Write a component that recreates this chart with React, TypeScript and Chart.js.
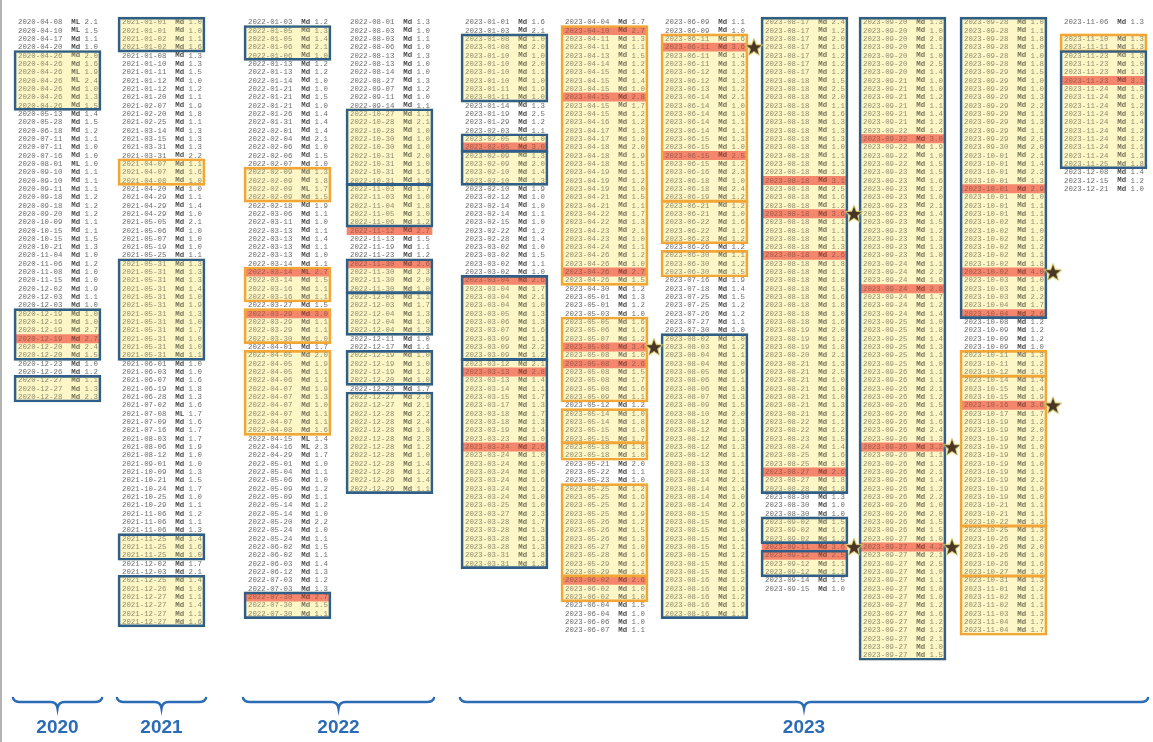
import React, { useEffect, useRef } from 'react';
import { Chart, registerables } from 'chart.js';

Chart.register(...registerables);

// ---------------- data: one list per printed column ----------------
const col2020 = [
  "2020-04-08 ML 2.1","2020-04-10 ML 1.5","2020-04-17 Md 1.1","2020-04-20 Md 1.0",
  "2020-04-26 Md 2.0","2020-04-26 Md 1.6","2020-04-26 ML 1.9","2020-04-26 ML 2.4","2020-04-26 Md 1.0","2020-04-26 Md 1.3","2020-04-26 Md 1.5",
  "2020-05-13 Md 1.4","2020-05-28 Md 1.5","2020-06-18 Md 1.2","2020-07-11 Md 1.1","2020-07-11 Md 1.0","2020-07-16 Md 1.0","2020-08-01 ML 1.0","2020-09-10 Md 1.1","2020-09-10 Md 1.1","2020-09-11 Md 1.1","2020-09-18 Md 1.2","2020-09-18 Md 1.2","2020-09-20 Md 1.2","2020-10-09 Md 1.1","2020-10-15 Md 1.1","2020-10-15 Md 1.5","2020-10-21 Md 1.3","2020-11-04 Md 1.0","2020-11-06 Md 1.2","2020-11-08 Md 1.0","2020-11-15 Md 1.0","2020-12-02 Md 1.9","2020-12-03 Md 1.1","2020-12-03 Md 1.0",
  "2020-12-19 Md 1.0","2020-12-19 Md 1.0","2020-12-19 Md 2.7","2020-12-19 Md 2.7","2020-12-20 Md 2.4","2020-12-20 Md 1.5",
  "2020-12-23 Md 1.0","2020-12-26 Md 1.2",
  "2020-12-27 Md 1.1","2020-12-27 Md 1.3","2020-12-28 Md 2.3",
];
const col2021 = [
  "2021-01-01 Md 1.0","2021-01-01 Md 1.0","2021-01-02 Md 1.1","2021-01-02 Md 1.6",
  "2021-01-08 Md 1.3","2021-01-10 Md 1.3","2021-01-11 Md 1.5","2021-01-12 Md 1.0","2021-01-12 Md 1.2","2021-01-20 Md 1.1","2021-02-07 Md 1.9","2021-02-20 Md 1.8","2021-02-25 Md 1.1","2021-03-14 Md 1.3","2021-03-15 Md 1.3","2021-03-31 Md 1.3","2021-03-31 Md 2.2",
  "2021-04-07 Md 1.1","2021-04-07 Md 1.6","2021-04-08 Md 1.0",
  "2021-04-20 Md 1.0","2021-04-29 Md 1.1","2021-04-29 Md 1.4","2021-04-29 Md 1.0","2021-05-05 Md 2.1","2021-05-06 Md 1.0","2021-05-07 Md 1.0","2021-05-19 Md 1.0","2021-05-25 Md 1.1",
  "2021-05-31 Md 1.3","2021-05-31 Md 1.3","2021-05-31 Md 1.3","2021-05-31 Md 1.4","2021-05-31 Md 1.0","2021-05-31 Md 1.9","2021-05-31 Md 1.3","2021-05-31 Md 1.0","2021-05-31 Md 1.7","2021-05-31 Md 1.0","2021-05-31 Md 1.0","2021-05-31 Md 1.1",
  "2021-06-01 Md 1.0","2021-06-03 Md 1.0","2021-06-07 Md 1.6","2021-06-19 Md 1.8","2021-06-28 Md 1.3","2021-07-02 Md 1.6","2021-07-08 ML 1.7","2021-07-09 Md 1.6","2021-07-16 Md 1.7","2021-08-03 Md 1.7","2021-08-06 Md 1.9","2021-08-12 Md 1.0","2021-09-01 Md 1.0","2021-10-09 Md 1.3","2021-10-21 Md 1.5","2021-10-24 Md 1.7","2021-10-25 Md 1.0","2021-10-29 Md 1.1","2021-11-06 Md 1.2","2021-11-06 Md 1.1","2021-11-06 Md 1.3",
  "2021-11-25 Md 1.4","2021-11-25 Md 1.6","2021-11-25 Md 1.0",
  "2021-12-02 Md 1.7","2021-12-03 Md 2.1",
  "2021-12-25 Md 1.4","2021-12-26 Md 1.0","2021-12-27 Md 1.1","2021-12-27 Md 1.4","2021-12-27 Md 1.1","2021-12-27 Md 1.6",
];
const col2022a = [
  "2022-01-03 Md 1.2",
  "2022-01-05 Md 1.3","2022-01-05 Md 1.4","2022-01-06 Md 2.1","2022-01-06 Md 1.0",
  "2022-01-13 Md 1.2","2022-01-13 Md 1.2","2022-01-14 Md 1.0","2022-01-21 Md 1.0","2022-01-21 Md 1.5","2022-01-21 Md 1.0","2022-01-26 Md 1.4","2022-01-31 Md 1.4","2022-02-01 Md 1.4","2022-02-04 Md 2.1","2022-02-06 Md 1.0","2022-02-06 Md 1.5","2022-02-07 Md 1.0",
  "2022-02-09 Md 1.3","2022-02-09 Md 1.8","2022-02-09 ML 1.7","2022-02-09 Md 1.5",
  "2022-02-18 Md 1.9","2022-03-06 Md 1.1","2022-03-11 Md 1.0","2022-03-13 Md 1.1","2022-03-13 Md 1.4","2022-03-13 Md 1.1","2022-03-13 Md 1.0","2022-03-14 Md 1.1",
  "2022-03-14 ML 2.7","2022-03-14 Md 1.5","2022-03-16 Md 1.1","2022-03-16 Md 1.1",
  "2022-03-27 Md 1.5",
  "2022-03-29 Md 3.0","2022-03-29 Md 1.1","2022-03-29 Md 1.1","2022-03-30 Md 1.0",
  "2022-04-01 Md 1.7",
  "2022-04-05 Md 2.0","2022-04-05 Md 1.9","2022-04-05 Md 1.1","2022-04-06 Md 1.1","2022-04-07 Md 1.9","2022-04-07 Md 1.3","2022-04-07 Md 1.0","2022-04-07 Md 1.1","2022-04-07 Md 1.1","2022-04-08 Md 1.6",
  "2022-04-15 ML 1.4","2022-04-16 ML 2.3","2022-04-29 Md 1.7","2022-05-01 Md 1.0","2022-05-04 Md 1.1","2022-05-06 Md 1.0","2022-05-09 Md 1.2","2022-05-09 Md 1.1","2022-05-14 Md 1.2","2022-05-14 Md 1.0","2022-05-20 Md 2.2","2022-05-24 Md 1.0","2022-05-24 Md 1.1","2022-06-02 Md 1.5","2022-06-02 Md 1.1","2022-06-03 Md 1.4","2022-06-12 Md 1.3","2022-07-03 Md 1.2","2022-07-03 Md 1.3",
  "2022-07-30 Md 2.7","2022-07-30 Md 1.5","2022-07-30 Md 1.1",
];
const col2022b = [
  "2022-08-01 Md 1.3","2022-08-03 Md 1.0","2022-08-03 Md 1.1","2022-08-06 Md 1.0","2022-08-13 Md 1.3","2022-08-13 Md 1.0","2022-08-14 Md 1.0","2022-08-27 Md 1.3","2022-09-07 Md 1.2","2022-09-11 Md 1.0","2022-09-14 Md 1.1",
  "2022-10-27 Md 1.1","2022-10-28 Md 2.1","2022-10-28 Md 1.0","2022-10-30 Md 1.0","2022-10-30 Md 1.0","2022-10-31 Md 2.0","2022-10-31 Md 1.0","2022-10-31 Md 1.6","2022-10-31 Md 1.3",
  "2022-11-03 Md 1.7","2022-11-03 Md 1.0","2022-11-04 Md 1.8","2022-11-05 Md 1.0","2022-11-06 Md 1.2",
  "2022-11-12 Md 2.7","2022-11-13 Md 1.5","2022-11-19 Md 1.1","2022-11-23 Md 1.2",
  "2022-11-30 Md 2.6","2022-11-30 Md 2.3","2022-11-30 Md 2.0","2022-11-30 Md 1.0",
  "2022-12-03 Md 1.1","2022-12-03 Md 1.7","2022-12-04 Md 1.3","2022-12-04 Md 1.0","2022-12-04 Md 1.3",
  "2022-12-11 Md 1.0","2022-12-17 Md 1.1",
  "2022-12-19 Md 1.0","2022-12-19 Md 1.0","2022-12-19 Md 1.2","2022-12-20 Md 1.0",
  "2022-12-23 Md 1.7",
  "2022-12-27 Md 2.0","2022-12-27 Md 2.1","2022-12-28 Md 2.2","2022-12-28 Md 2.4","2022-12-28 Md 1.0","2022-12-28 Md 2.3","2022-12-28 Md 1.2","2022-12-28 Md 1.0","2022-12-28 Md 1.4","2022-12-28 Md 1.2","2022-12-29 Md 1.4","2022-12-29 Md 1.1",
];
const col2023a = [
  "2023-01-01 Md 1.6","2023-01-03 Md 2.1",
  "2023-01-08 Md 1.0","2023-01-08 Md 2.0","2023-01-10 Md 1.0","2023-01-10 Md 2.0","2023-01-10 Md 1.1","2023-01-10 Md 1.0","2023-01-11 Md 1.9","2023-01-11 Md 1.0",
  "2023-01-14 Md 1.3","2023-01-19 Md 2.5","2023-01-29 Md 1.2","2023-02-03 Md 1.1",
  "2023-02-05 Md 1.0","2023-02-05 Md 3.0","2023-02-09 Md 1.3","2023-02-09 Md 2.0","2023-02-10 Md 1.4","2023-02-10 Md 1.3",
  "2023-02-10 Md 1.9","2023-02-12 Md 1.0","2023-02-14 Md 1.0","2023-02-14 Md 1.1","2023-02-15 Md 1.0","2023-02-22 Md 1.2","2023-02-28 Md 1.4","2023-03-02 Md 1.0","2023-03-02 Md 1.5","2023-03-02 Md 1.1","2023-03-02 Md 1.0",
  "2023-03-04 Md 2.6","2023-03-04 Md 1.7","2023-03-04 Md 2.1","2023-03-04 Md 1.0","2023-03-05 Md 1.3","2023-03-06 Md 1.3","2023-03-07 Md 1.6","2023-03-09 Md 1.1","2023-03-09 Md 2.2","2023-03-09 Md 1.2",
  "2023-03-12 Md 2.1","2023-03-13 Md 2.8","2023-03-13 Md 1.4","2023-03-14 Md 1.1","2023-03-15 Md 1.7","2023-03-17 Md 1.3","2023-03-18 Md 1.7","2023-03-18 Md 1.3","2023-03-19 Md 1.4","2023-03-23 Md 1.0","2023-03-24 Md 2.6","2023-03-24 Md 1.0","2023-03-24 Md 1.0","2023-03-24 Md 1.0","2023-03-24 Md 1.6","2023-03-24 Md 1.2","2023-03-24 Md 1.0","2023-03-25 Md 1.0","2023-03-27 Md 2.3","2023-03-28 Md 1.7","2023-03-28 Md 1.3","2023-03-28 Md 1.3","2023-03-28 Md 1.3","2023-03-31 Md 1.8","2023-03-31 Md 1.3",
];
const col2023b = [
  "2023-04-04 Md 1.7",
  "2023-04-10 Md 2.7","2023-04-11 Md 1.3","2023-04-11 Md 1.1","2023-04-13 Md 1.5","2023-04-14 Md 1.2","2023-04-15 Md 1.4","2023-04-15 Md 1.4","2023-04-15 Md 1.0","2023-04-15 Md 2.8","2023-04-15 Md 1.7","2023-04-15 Md 1.2","2023-04-16 Md 1.2","2023-04-17 Md 1.3","2023-04-17 Md 1.0","2023-04-18 Md 2.0","2023-04-18 Md 1.9","2023-04-18 Md 1.5","2023-04-19 Md 1.1","2023-04-19 Md 1.2","2023-04-19 Md 1.0","2023-04-21 Md 1.5","2023-04-21 Md 1.1","2023-04-22 Md 1.7","2023-04-22 Md 1.3","2023-04-23 Md 2.1","2023-04-23 Md 1.0","2023-04-24 Md 1.1","2023-04-26 Md 1.2","2023-04-26 Md 1.0","2023-04-26 Md 2.7","2023-04-26 Md 1.5",
  "2023-04-30 Md 1.2","2023-05-01 Md 1.3","2023-05-01 Md 1.2","2023-05-03 Md 1.0",
  "2023-05-05 Md 1.6","2023-05-06 Md 1.6","2023-05-07 Md 1.2","2023-05-08 Md 3.4","2023-05-08 Md 1.0","2023-05-08 Md 2.6","2023-05-08 Md 1.5","2023-05-08 Md 1.7","2023-05-08 Md 1.6","2023-05-09 Md 1.1",
  "2023-05-12 Md 1.2",
  "2023-05-14 Md 1.0","2023-05-14 Md 1.8","2023-05-15 Md 1.0","2023-05-15 Md 1.7",
  "2023-05-18 Md 1.8","2023-05-18 Md 1.0",
  "2023-05-21 Md 2.0","2023-05-22 Md 1.1","2023-05-23 Md 1.0",
  "2023-05-25 Md 1.2","2023-05-25 Md 1.6","2023-05-25 Md 1.2","2023-05-25 Md 1.9","2023-05-26 Md 1.2","2023-05-26 Md 1.5","2023-05-26 Md 1.3","2023-05-27 Md 1.0","2023-05-28 Md 1.6","2023-05-29 Md 1.2","2023-05-29 Md 1.1",
  "2023-06-02 Md 2.6","2023-06-02 Md 1.0","2023-06-02 Md 1.0",
  "2023-06-04 Md 1.5","2023-06-04 Md 1.0","2023-06-06 Md 1.0","2023-06-07 Md 1.1",
];
const col2023c = [
  "2023-06-09 Md 1.1","2023-06-09 Md 1.0",
  "2023-06-11 Md 1.6","2023-06-11 Md 3.6","2023-06-11 Md 1.4","2023-06-11 Md 1.3","2023-06-12 Md 1.2","2023-06-12 Md 1.3","2023-06-13 Md 1.2","2023-06-14 Md 2.1","2023-06-14 Md 1.0","2023-06-14 Md 1.0","2023-06-14 Md 1.1","2023-06-14 Md 1.1","2023-06-15 Md 1.3","2023-06-15 Md 1.0","2023-06-15 Md 2.5","2023-06-15 Md 1.2","2023-06-16 Md 2.3","2023-06-18 Md 1.0","2023-06-18 Md 2.4","2023-06-19 Md 1.2",
  "2023-06-21 Md 1.2","2023-06-21 Md 1.0","2023-06-22 Md 1.6","2023-06-22 Md 1.2","2023-06-23 Md 1.2",
  "2023-06-26 Md 1.2",
  "2023-06-30 Md 1.1","2023-06-30 Md 1.2","2023-06-30 Md 1.5",
  "2023-07-16 Md 1.9","2023-07-18 Md 1.4","2023-07-25 Md 1.5","2023-07-25 Md 1.2","2023-07-26 Md 1.2","2023-07-27 Md 1.1","2023-07-30 Md 1.0",
  "2023-08-02 Md 1.0","2023-08-03 Md 1.2","2023-08-04 Md 1.1","2023-08-04 Md 1.0","2023-08-05 Md 1.9","2023-08-06 Md 1.1","2023-08-06 Md 1.8","2023-08-07 Md 1.3","2023-08-09 Md 1.5","2023-08-10 Md 2.0","2023-08-12 Md 1.3","2023-08-12 Md 1.9","2023-08-12 Md 1.3","2023-08-12 Md 1.3","2023-08-12 Md 1.1","2023-08-13 Md 1.1","2023-08-13 Md 1.1","2023-08-14 Md 2.1","2023-08-14 Md 1.4","2023-08-14 Md 1.0","2023-08-14 Md 2.6","2023-08-15 Md 1.9","2023-08-15 Md 1.0","2023-08-15 Md 1.0","2023-08-15 Md 1.1","2023-08-15 Md 1.1","2023-08-15 Md 1.2","2023-08-15 Md 1.1","2023-08-15 Md 1.5","2023-08-16 Md 1.2","2023-08-16 Md 1.9","2023-08-16 Md 1.2","2023-08-16 Md 1.9","2023-08-16 Md 1.1",
];
const col2023d = [
  "2023-08-17 Md 2.4","2023-08-17 Md 1.2","2023-08-17 Md 2.0","2023-08-17 Md 1.6","2023-08-17 Md 1.2","2023-08-17 Md 1.2","2023-08-17 Md 1.2",
  "2023-08-18 Md 1.5","2023-08-18 Md 2.5","2023-08-18 Md 2.0","2023-08-18 Md 1.1","2023-08-18 Md 1.6","2023-08-18 Md 1.3","2023-08-18 Md 1.3","2023-08-18 Md 1.3","2023-08-18 Md 1.0","2023-08-18 Md 1.1","2023-08-18 Md 1.1","2023-08-18 Md 1.3","2023-08-18 Md 3.1","2023-08-18 Md 2.5","2023-08-18 Md 1.6","2023-08-18 Md 1.2","2023-08-18 Md 3.6","2023-08-18 Md 1.1","2023-08-18 Md 1.1","2023-08-18 Md 1.1","2023-08-18 Md 1.3","2023-08-18 Md 2.6","2023-08-18 Md 1.8","2023-08-18 Md 1.1","2023-08-18 Md 1.8","2023-08-18 Md 1.5","2023-08-18 Md 1.6","2023-08-18 Md 1.8","2023-08-18 Md 1.0","2023-08-18 Md 1.6",
  "2023-08-19 Md 2.0","2023-08-19 Md 1.2","2023-08-19 Md 1.8","2023-08-20 Md 2.1","2023-08-21 Md 1.3","2023-08-21 Md 2.5","2023-08-21 Md 1.0","2023-08-21 Md 1.0","2023-08-21 Md 1.0","2023-08-21 Md 1.3","2023-08-21 Md 1.2","2023-08-22 Md 1.1","2023-08-22 Md 1.2","2023-08-23 Md 1.5","2023-08-24 Md 1.4","2023-08-25 Md 1.6","2023-08-25 Md 1.0","2023-08-27 Md 2.6","2023-08-27 Md 1.8","2023-08-28 Md 1.8",
  "2023-08-30 Md 1.3","2023-08-30 Md 1.0","2023-08-30 Md 1.0",
  "2023-09-02 Md 1.5","2023-09-02 Md 1.6","2023-09-02 Md 1.2",
  "2023-09-11 Md 3.6",
  "2023-09-12 Md 2.5","2023-09-12 Md 1.1","2023-09-12 Md 1.1",
  "2023-09-14 Md 1.5","2023-09-15 Md 1.0",
];
const col2023e = [
  "2023-09-20 Md 1.3","2023-09-20 Md 1.0","2023-09-20 Md 2.0","2023-09-20 Md 1.1","2023-09-20 Md 1.0","2023-09-20 Md 2.5","2023-09-20 Md 1.4",
  "2023-09-21 Md 1.0","2023-09-21 Md 1.0","2023-09-21 Md 1.2","2023-09-21 Md 1.1","2023-09-21 Md 1.4","2023-09-21 Md 1.2",
  "2023-09-22 Md 1.4","2023-09-22 Md 3.0","2023-09-22 Md 1.9","2023-09-22 Md 1.0","2023-09-22 Md 1.5",
  "2023-09-23 Md 1.5","2023-09-23 Md 1.6","2023-09-23 Md 1.2","2023-09-23 Md 1.0","2023-09-23 Md 2.1","2023-09-23 Md 1.4","2023-09-23 Md 1.5","2023-09-23 Md 1.2","2023-09-23 Md 1.3","2023-09-23 Md 1.3","2023-09-23 Md 1.0",
  "2023-09-24 Md 1.1","2023-09-24 Md 2.2","2023-09-24 Md 1.0","2023-09-24 Md 2.8","2023-09-24 Md 1.7","2023-09-24 Md 1.2","2023-09-24 Md 1.4",
  "2023-09-25 Md 1.0","2023-09-25 Md 1.8","2023-09-25 Md 1.4","2023-09-25 Md 1.3","2023-09-25 Md 1.1","2023-09-25 Md 1.0",
  "2023-09-26 Md 1.1","2023-09-26 Md 1.1","2023-09-26 Md 2.1","2023-09-26 Md 1.2","2023-09-26 Md 1.5","2023-09-26 Md 1.4","2023-09-26 Md 1.6","2023-09-26 Md 2.4","2023-09-26 Md 1.3","2023-09-26 Md 3.2","2023-09-26 Md 1.1","2023-09-26 Md 1.3","2023-09-26 Md 2.1","2023-09-26 Md 1.4","2023-09-26 Md 1.2","2023-09-26 Md 2.2","2023-09-26 Md 1.0","2023-09-26 Md 2.0","2023-09-26 Md 1.5","2023-09-26 Md 1.5",
  "2023-09-27 Md 1.0","2023-09-27 Md 4.2","2023-09-27 Md 2.1","2023-09-27 Md 2.5","2023-09-27 Md 1.0","2023-09-27 Md 1.1","2023-09-27 Md 1.0","2023-09-27 Md 1.0","2023-09-27 Md 1.2","2023-09-27 Md 1.6","2023-09-27 Md 1.2","2023-09-27 Md 1.2","2023-09-27 Md 2.1","2023-09-27 Md 1.0","2023-09-27 Md 1.5",
];
const col2023f = [
  "2023-09-28 Md 1.0","2023-09-28 Md 1.1","2023-09-28 Md 1.8","2023-09-28 Md 1.0","2023-09-28 Md 1.0","2023-09-28 Md 1.8",
  "2023-09-29 Md 1.5","2023-09-29 Md 1.0","2023-09-29 Md 1.0","2023-09-29 Md 1.3","2023-09-29 Md 2.2","2023-09-29 Md 1.1","2023-09-29 Md 1.3","2023-09-29 Md 1.1","2023-09-29 Md 2.5",
  "2023-09-30 Md 2.0",
  "2023-10-01 Md 2.1","2023-10-01 Md 1.4","2023-10-01 Md 2.2","2023-10-01 Md 1.3","2023-10-01 Md 2.9","2023-10-01 Md 1.0","2023-10-01 Md 1.1","2023-10-01 Md 1.1",
  "2023-10-02 Md 1.1","2023-10-02 Md 1.0","2023-10-02 Md 1.2","2023-10-02 Md 1.2","2023-10-02 Md 1.1","2023-10-02 Md 1.8","2023-10-02 Md 4.0",
  "2023-10-03 Md 1.0","2023-10-03 Md 1.0","2023-10-03 Md 2.2","2023-10-04 Md 1.7","2023-10-04 Md 2.6",
  "2023-10-08 Md 1.2","2023-10-09 Md 1.2","2023-10-09 Md 1.2","2023-10-09 Md 1.0",
  "2023-10-11 Md 1.3","2023-10-11 Md 1.2","2023-10-12 Md 1.5",
  "2023-10-14 Md 1.4","2023-10-15 Md 1.4","2023-10-15 Md 1.9","2023-10-16 Md 3.6","2023-10-17 Md 1.7","2023-10-19 Md 1.2","2023-10-19 Md 2.0","2023-10-19 Md 2.2","2023-10-19 Md 1.0","2023-10-19 Md 1.0","2023-10-19 Md 1.0","2023-10-19 Md 1.1","2023-10-19 Md 2.2","2023-10-19 Md 1.0","2023-10-19 Md 1.0","2023-10-21 Md 1.1","2023-10-21 Md 1.1","2023-10-22 Md 1.3",
  "2023-10-25 Md 1.3","2023-10-26 Md 1.2","2023-10-26 Md 2.0","2023-10-26 Md 1.0","2023-10-26 Md 1.6","2023-10-27 Md 1.2",
  "2023-10-31 Md 1.3","2023-11-01 Md 1.2","2023-11-02 Md 1.1","2023-11-02 Md 1.1","2023-11-03 Md 1.3","2023-11-04 Md 1.7","2023-11-04 Md 1.7",
];
const col2023g = [
  "2023-11-06 Md 1.3","",
  "2023-11-10 Md 1.3","2023-11-11 Md 1.3",
  "2023-11-23 Md 1.3","2023-11-23 Md 1.0","2023-11-23 Md 1.3","2023-11-23 Md 3.1","2023-11-24 Md 1.3","2023-11-24 Md 1.0","2023-11-24 Md 1.2","2023-11-24 Md 1.0","2023-11-24 Md 1.4","2023-11-24 Md 1.2","2023-11-24 Md 1.2","2023-11-24 Md 1.1","2023-11-24 Md 1.3","2023-11-25 Md 1.8",
  "2023-12-08 Md 1.4","2023-12-15 Md 1.2","2023-12-21 Md 1.0",
];

const columns: string[][] = [col2020, col2021, col2022a, col2022b, col2023a, col2023b, col2023c, col2023d, col2023e, col2023f, col2023g];

// highlighted groups: [column, first row, last row, frame colour]
type Kind = 'blue' | 'orange';
const boxes: [number, number, number, Kind][] = [
  [0, 4, 10, 'blue'], [0, 35, 40, 'blue'], [0, 43, 45, 'blue'],
  [1, 0, 3, 'blue'], [1, 17, 19, 'orange'], [1, 29, 40, 'blue'], [1, 62, 64, 'blue'], [1, 67, 72, 'blue'],
  [2, 1, 4, 'blue'], [2, 18, 21, 'orange'], [2, 30, 33, 'orange'], [2, 35, 38, 'orange'], [2, 40, 49, 'orange'], [2, 69, 71, 'blue'],
  [3, 11, 19, 'blue'], [3, 20, 24, 'blue'], [3, 29, 32, 'blue'], [3, 33, 37, 'blue'], [3, 40, 43, 'blue'], [3, 45, 56, 'blue'],
  [4, 2, 9, 'blue'], [4, 14, 15, 'blue'], [4, 16, 19, 'blue'], [4, 31, 40, 'blue'], [4, 41, 65, 'blue'],
  [5, 1, 31, 'orange'], [5, 36, 45, 'orange'], [5, 47, 50, 'orange'], [5, 51, 52, 'orange'], [5, 56, 66, 'orange'], [5, 67, 69, 'orange'],
  [6, 2, 21, 'orange'], [6, 22, 26, 'orange'], [6, 28, 30, 'orange'], [6, 38, 71, 'blue'],
  [7, 0, 56, 'blue'], [7, 60, 62, 'blue'], [7, 64, 66, 'blue'],
  [8, 0, 76, 'blue'],
  [9, 0, 35, 'blue'], [9, 40, 42, 'orange'], [9, 43, 60, 'orange'], [9, 61, 66, 'orange'], [9, 67, 73, 'orange'],
  [10, 2, 3, 'orange'], [10, 4, 17, 'blue'],
];
// rows shaded red: [column, row]
const redRows: [number, number][] = [
  [0, 38], [2, 30], [2, 35], [2, 69], [3, 25], [3, 29],
  [4, 15], [4, 31], [4, 42], [4, 51],
  [5, 1], [5, 9], [5, 30], [5, 39], [5, 41], [5, 67],
  [6, 3], [6, 16],
  [7, 19], [7, 23], [7, 28], [7, 54], [7, 63], [7, 64],
  [8, 14], [8, 32], [8, 51], [8, 63],
  [9, 20], [9, 30], [9, 35], [9, 46],
  [10, 7],
];
// rows marked with a star: [column, row]
const starRows: [number, number][] = [[5, 39], [6, 3], [7, 23], [7, 63], [8, 51], [8, 63], [9, 30], [9, 46]];

const years = ['2020', '2021', '2022', '2023'];
const yearColumns: [number, number][] = [[0, 0], [1, 1], [2, 3], [4, 10]];

// ---------------- layout ----------------
const W = 1153;
const H = 742;
const COL_LEFT = [18, 122, 248, 350, 465, 565, 665, 765, 863, 964, 1064];
const ROW_PX = 8.33;
const FIRST_ROW_PX = 22.3;
const Y_MIN = -FIRST_ROW_PX / ROW_PX;
const Y_MAX = Y_MIN + H / ROW_PX;
const BOX_LEFT = -4;
const BOX_W = 87;
const BLUE = '#2f5e88';
const ORANGE = '#f2a638';
const FILL = '#fdf6c6';
const RED = '#f3866c';

function inBox(c: number, r: number) {
  return boxes.some(([bc, a, b]) => bc === c && r >= a && r <= b);
}
function isRed(c: number, r: number) {
  return redRows.some(([rc, rr]) => rc === c && rr === r);
}

function makeStar(): HTMLCanvasElement {
  const cv = document.createElement('canvas');
  cv.width = 22;
  cv.height = 22;
  const g = cv.getContext('2d')!;
  const cx = 11, cy = 11.5, R = 9.2, r = 3.8;
  g.beginPath();
  for (let i = 0; i < 10; i++) {
    const a = -Math.PI / 2 + (i * Math.PI) / 5;
    const rad = i % 2 === 0 ? R : r;
    g.lineTo(cx + rad * Math.cos(a), cy + rad * Math.sin(a));
  }
  g.closePath();
  g.shadowColor = 'rgba(235,225,100,0.95)';
  g.shadowBlur = 3;
  g.fillStyle = '#4b3626';
  g.fill();
  g.shadowBlur = 0;
  g.lineWidth = 0.8;
  g.strokeStyle = '#d9d27a';
  g.stroke();
  return cv;
}

const rowTextPlugin = {
  id: 'rowText',
  afterDatasetDraw(chart: any, args: any) {
    const ds = chart.data.datasets[args.index];
    if (ds.label !== 'rows') return;
    const ctx = chart.ctx as CanvasRenderingContext2D;
    ctx.save();
    ctx.textBaseline = 'middle';
    ctx.textAlign = 'left';
    ctx.font = '7.4px "Liberation Mono", monospace';
    const cw = ctx.measureText('0').width;
    args.meta.data.forEach((el: any, i: number) => {
      const p = ds.data[i];
      const [date, kind, mag] = p.text.split(' ');
      ctx.fillStyle = p.red ? '#a0584a' : p.boxed ? '#8f8c6c' : '#6c6c6c';
      ctx.font = '7.4px "Liberation Mono", monospace';
      ctx.fillText(date, el.x, el.y);
      ctx.fillText(mag, el.x + cw * 15, el.y);
      ctx.font = 'bold 7.4px "Liberation Mono", monospace';
      ctx.fillStyle = p.red ? '#8a4638' : p.boxed ? '#77755a' : '#4c4c4c';
      ctx.fillText(kind, el.x + cw * 12, el.y);
    });
    ctx.restore();
  },
};

const yearPlugin = {
  id: 'years',
  afterDraw(chart: any) {
    const ctx = chart.ctx as CanvasRenderingContext2D;
    const xs = chart.scales.x;
    ctx.save();
    ctx.strokeStyle = '#9a9a9a';
    ctx.lineWidth = 1.5;
    ctx.beginPath();
    ctx.moveTo(1, 0);
    ctx.lineTo(1, H);
    ctx.stroke();

    const yLine = H - 40;
    const blue = '#2c6cb6';
    years.forEach((yr, i) => {
      const [c0, c1] = yearColumns[i];
      const x0 = xs.getPixelForValue(COL_LEFT[c0] + BOX_LEFT - 1);
      const x1 = xs.getPixelForValue(COL_LEFT[c1] + BOX_LEFT + BOX_W + 1);
      const mid = (x0 + x1) / 2;
      const k = 7;
      ctx.strokeStyle = blue;
      ctx.lineWidth = 2.6;
      ctx.lineCap = 'round';
      ctx.beginPath();
      ctx.moveTo(x0, yLine - 4);
      ctx.quadraticCurveTo(x0 + 1, yLine, x0 + k, yLine);
      ctx.lineTo(mid - k, yLine);
      ctx.quadraticCurveTo(mid - 1, yLine, mid, yLine + 6);
      ctx.quadraticCurveTo(mid + 1, yLine, mid + k, yLine);
      ctx.lineTo(x1 - k, yLine);
      ctx.quadraticCurveTo(x1 - 1, yLine, x1, yLine - 4);
      ctx.stroke();
      ctx.fillStyle = blue;
      ctx.font = 'bold 19px "Liberation Sans Narrow", "Liberation Sans", Arial, sans-serif';
      ctx.textAlign = 'center';
      ctx.textBaseline = 'middle';
      ctx.fillText(yr, mid, H - 14);
    });
    ctx.restore();
  },
};

export default function App() {
  const ref = useRef<HTMLCanvasElement | null>(null);

  useEffect(() => {
    if (!ref.current) return;
    const star = makeStar();

    const rowPoints: any[] = [];
    columns.forEach((list, c) => {
      list.forEach((text, r) => {
        if (!text) return;
        rowPoints.push({ x: COL_LEFT[c], y: r, text, boxed: inBox(c, r), red: isRed(c, r) });
      });
    });
    const boxData = boxes.map(([c, a, b]) => ({ x: COL_LEFT[c] + BOX_LEFT + BOX_W / 2, y: [a - 0.62, b + 0.58] }));
    const boxColors = boxes.map(([, , , k]) => (k === 'blue' ? BLUE : ORANGE));
    const redData = redRows.map(([c, r]) => ({ x: COL_LEFT[c] + BOX_LEFT + BOX_W / 2, y: [r - 0.52, r + 0.48] }));
    const starData = starRows.map(([c, r]) => ({ x: COL_LEFT[c] + BOX_LEFT + BOX_W + 6, y: r }));

    const chart = new Chart(ref.current, {
      type: 'bar',
      data: {
        datasets: [
          { type: 'scatter', label: 'stars', data: starData, pointStyle: star as any, pointRadius: 9, order: 0, clip: false } as any,
          { type: 'scatter', label: 'rows', data: rowPoints, pointRadius: 0, pointHoverRadius: 0, order: 1, clip: false } as any,
          {
            type: 'bar', label: 'frames', data: boxData,
            backgroundColor: 'rgba(0,0,0,0)', borderColor: boxColors, borderWidth: 2, borderSkipped: false,
            barThickness: BOX_W, grouped: false, order: 2,
          } as any,
          {
            type: 'bar', label: 'red', data: redData, backgroundColor: RED, borderWidth: 0,
            barThickness: BOX_W - 2, grouped: false, order: 3,
          } as any,
          {
            type: 'bar', label: 'fills', data: boxData, backgroundColor: FILL, borderWidth: 0,
            barThickness: BOX_W, grouped: false, order: 4,
          } as any,
        ],
      },
      options: {
        animation: false,
        responsive: false,
        devicePixelRatio: 1,
        events: [],
        layout: { padding: 0, autoPadding: false },
        plugins: {
          legend: { display: false },
          tooltip: { enabled: false },
          title: { display: false },
        },
        scales: {
          x: { type: 'linear', min: 0, max: W, display: false, offset: false },
          y: { type: 'linear', min: Y_MIN, max: Y_MAX, reverse: true, display: false },
        },
      } as any,
      plugins: [rowTextPlugin, yearPlugin],
    });
    return () => chart.destroy();
  }, []);

  return (
    <div style={{ position: 'absolute', left: 0, top: 0, width: W, height: H, background: '#fff' }}>
      <canvas ref={ref} width={W} height={H} style={{ display: 'block' }} />
    </div>
  );
}
